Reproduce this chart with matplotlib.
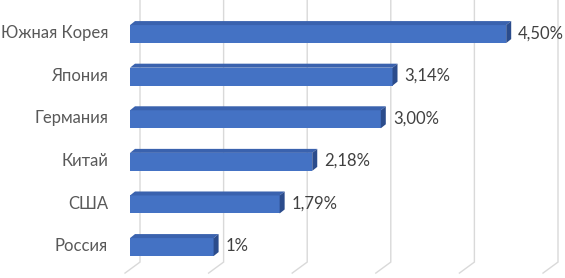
import matplotlib
matplotlib.use("Agg")
import matplotlib.pyplot as plt
from matplotlib.patches import Polygon

plt.rcParams["font.family"] = ["Lato", "DejaVu Sans"]

countries = ["Россия", "США", "Китай", "Германия", "Япония", "Южная Корея"]
values = [1.00, 1.79, 2.18, 3.00, 3.14, 4.50]
value_labels = ["1%", "1,79%", "2,18%", "3,00%", "3,14%", "4,50%"]
grid_ticks = [0, 1, 2, 3, 4, 5]

front = "#4472C4"
top_face = "#3A62AE"
side_face = "#2B4C8C"

W, H, DPI = 565, 278, 100
px_x = 83.6   # pixels per unit on x
px_y = 42.6   # pixels per category
x0_px = 130   # where 0 sits on the front plane
y_top = 5.8

xmin = -x0_px / px_x
xmax = xmin + W / px_x
ymax = y_top
ymin = ymax - H / px_y

fig = plt.figure(figsize=(W / DPI, H / DPI), dpi=DPI)
ax = fig.add_axes([0, 0, 1, 1])
ax.set_xlim(xmin, xmax)
ax.set_ylim(ymin, ymax)
ax.axis("off")

# 3D offsets in data units
bar_h = 18 / px_y
dx = 5 / px_x
dy = 4 / px_y
wall_dx = 10 / px_x
floor_back = -15 / px_y
floor_front_dx = -15 / px_x
floor_front_dy = -11 / px_y

# back wall gridlines with slanted floor part
for g in grid_ticks:
    xb = g + wall_dx
    ax.plot([xb, xb, xb + floor_front_dx],
            [ymax, floor_back, floor_back + floor_front_dy],
            color="#D9D9D9", lw=1.0, zorder=1, solid_joinstyle="miter")

for i, (v, lab) in enumerate(zip(values, value_labels)):
    yb = i - bar_h / 2
    yt = i + bar_h / 2
    ax.barh(i, v, height=bar_h, left=0, color=front, zorder=3)
    ax.add_patch(Polygon([(0, yt), (v, yt), (v + dx, yt + dy), (dx, yt + dy)],
                         closed=True, facecolor=top_face, edgecolor="none", zorder=3))
    ax.add_patch(Polygon([(v, yb), (v + dx, yb + dy), (v + dx, yt + dy), (v, yt)],
                         closed=True, facecolor=side_face, edgecolor="none", zorder=3))
    ax.text(v + 12 / px_x, i + 0.02, lab, ha="left", va="center",
            fontsize=12, color="#404040", zorder=4)
    ax.text(-22 / px_x, i + 0.02, countries[i], ha="right", va="center",
            fontsize=12, color="#595959", zorder=4)

fig.savefig("out.png", dpi=DPI)
plt.close(fig)
